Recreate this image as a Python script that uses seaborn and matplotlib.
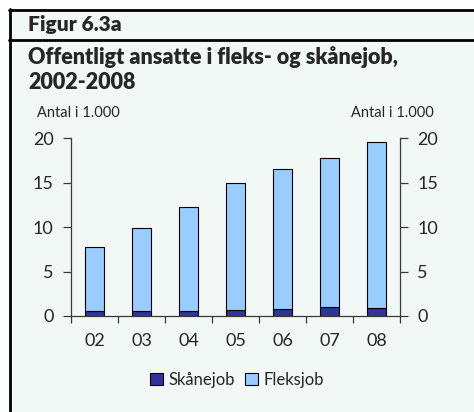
import matplotlib
matplotlib.use("Agg")
import matplotlib.pyplot as plt
from matplotlib.patches import Rectangle, Patch
from matplotlib.lines import Line2D
import seaborn as sns
import pandas as pd

years = ["02", "03", "04", "05", "06", "07", "08"]
skanejob = [0.6, 0.6, 0.6, 0.7, 0.8, 1.0, 0.9]
fleksjob = [7.2, 9.25, 11.6, 14.3, 15.7, 16.8, 18.6]
y_ticks = [0, 5, 10, 15, 20]

dark = "#333399"
light = "#99ccff"
bg = "#f1f8f5"
axc = "#3a3a3a"
FONT = "Lato"

sns.set_theme(style="white")
plt.rcParams["font.family"] = [FONT, "DejaVu Sans"]

W, H = 474, 412
fig = plt.figure(figsize=(W / 100, H / 100), dpi=100)
fig.patch.set_facecolor("white")

def px(x, y):
    return x / W, 1 - y / H

# background panel
fig.patches.append(Rectangle(px(9, 412), (W - 9) / W, (412 - 9) / H,
                             transform=fig.transFigure, facecolor=bg, edgecolor="none", zorder=-5))
for (x0, y0, x1, y1) in [(9, 9.5, 474, 9.5), (9, 39.5, 474, 39.5), (9.5, 9, 9.5, 412)]:
    a, b = px(x0, y0)
    c, d = px(x1, y1)
    fig.add_artist(Line2D([a, c], [b, d], transform=fig.transFigure, color="black", lw=2, zorder=-1))

fig.text(*px(28, 31), "Figur 6.3a", fontsize=15, fontweight="heavy", ha="left", va="baseline")
fig.text(*px(28, 64), "Offentligt ansatte i fleks- og skånejob,", fontsize=15.5, fontweight="heavy", ha="left", va="baseline")
fig.text(*px(28, 89), "2002-2008", fontsize=15.5, fontweight="heavy", ha="left", va="baseline")
fig.text(*px(37, 117), "Antal i 1.000", fontsize=10.5, ha="left", va="baseline")
fig.text(*px(434, 117), "Antal i 1.000", fontsize=10.5, ha="right", va="baseline")

ax = fig.add_axes([71 / W, 1 - 316 / H, (400 - 71) / W, (316 - 138) / H])
ax.set_facecolor("none")
ax.set_zorder(2)

df = pd.DataFrame({"year": years, "Skånejob": skanejob, "Fleksjob": fleksjob})
sns.barplot(data=df, x="year", y="Skånejob", color=dark, width=0.4, edgecolor="black",
            linewidth=0.8, saturation=1, ax=ax)
sns.barplot(data=df, x="year", y="Fleksjob", color=light, width=0.4, edgecolor="black",
            linewidth=0.8, saturation=1, bottom=df["Skånejob"], ax=ax)

ax.set_ylim(0, 20)
ax.set_xlim(-0.5, len(years) - 0.5)
ax.set_yticks(y_ticks)
ax.set_xlabel("")
ax.set_ylabel("")
for s in ["top", "right"]:
    ax.spines[s].set_visible(False)
for s in ["left", "bottom"]:
    ax.spines[s].set_color(axc)
    ax.spines[s].set_linewidth(0.9)
ax.tick_params(axis="y", direction="out", length=6, width=0.9, color=axc, labelsize=13, pad=6.5, left=True)
ax.tick_params(axis="x", which="major", length=0, labelsize=13, pad=12)
ax.set_xticks([i - 0.5 for i in range(len(years) + 1)], minor=True)
ax.tick_params(axis="x", which="minor", direction="out", length=5, width=0.9, color=axc, bottom=True)

ax2 = ax.twinx()
ax2.set_ylim(0, 20)
ax2.set_yticks(y_ticks)
for s in ["top", "left", "bottom"]:
    ax2.spines[s].set_visible(False)
ax2.spines["right"].set_color(axc)
ax2.spines["right"].set_linewidth(0.9)
ax2.tick_params(axis="y", direction="out", length=6, width=0.9, color=axc, labelsize=13, pad=6.5, right=True)
ax2.grid(False)
ax.grid(False)

handles = [Patch(facecolor=dark, edgecolor="black", lw=0.8, label="Skånejob"),
           Patch(facecolor=light, edgecolor="black", lw=0.8, label="Fleksjob")]
fig.legend(handles=handles, loc="center", bbox_to_anchor=px(237, 380), ncol=2, frameon=False,
           fontsize=12, handlelength=0.75, handleheight=0.75, handletextpad=0.35, columnspacing=0.6)

fig.savefig("out.png", dpi=100, facecolor="white")
